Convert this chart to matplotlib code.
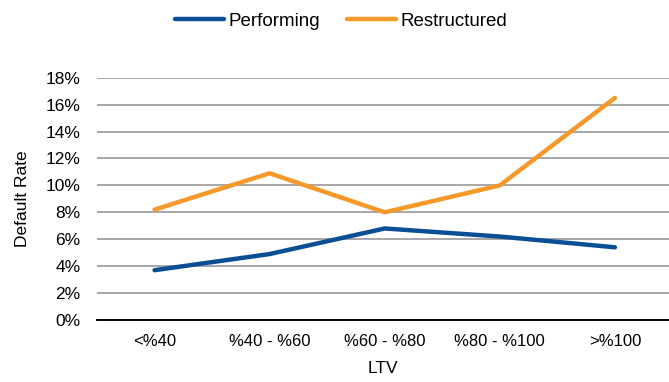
import matplotlib
matplotlib.use("Agg")
import matplotlib.pyplot as plt
from matplotlib.ticker import PercentFormatter

plt.rcParams['font.family'] = ['Liberation Sans', 'DejaVu Sans']

ltv_buckets = ['<%40', '%40 - %60', '%60 - %80', '%80 - %100', '>%100']
performing = [3.7, 4.9, 6.8, 6.2, 5.4]
restructured = [8.2, 10.9, 8.0, 10.0, 16.5]
y_ticks = [0, 2, 4, 6, 8, 10, 12, 14, 16, 18]

fig = plt.figure(figsize=(6.69, 3.82), dpi=100)
ax = fig.add_axes([0.145, 0.1623, 0.855, 0.6343])

x = range(len(ltv_buckets))
ax.plot(x, performing, color='#0a4f94', lw=3.2, solid_capstyle='round', label='Performing', zorder=3)
ax.plot(x, restructured, color='#f4992a', lw=3.2, solid_capstyle='round', label='Restructured', zorder=3)

ax.set_xlim(-0.5, 4.47)
ax.set_ylim(0, 18)
ax.set_yticks(y_ticks)
ax.yaxis.set_major_formatter(PercentFormatter(decimals=0))
ax.set_xticks(list(x))
ax.set_xticklabels(ltv_buckets)

ax.yaxis.grid(True, color='#a0a0a0', lw=1.3)
ax.set_axisbelow(True)
for side in ['top', 'right', 'left']:
    ax.spines[side].set_visible(False)
ax.spines['bottom'].set_color('black')
ax.spines['bottom'].set_linewidth(1.4)
ax.spines['bottom'].set_zorder(4)

ax.tick_params(axis='y', length=0, pad=12, labelsize=12.5)
ax.tick_params(axis='x', length=0, pad=10, labelsize=12)
ax.set_ylabel('Default Rate', fontsize=12.5, labelpad=11)
ax.set_xlabel('LTV', fontsize=12.5, labelpad=9)

fig.legend(loc='center', bbox_to_anchor=(0.51, 0.945), ncol=2, frameon=False,
           fontsize=13.5, handlelength=2.6, handletextpad=0.25, columnspacing=1.4)

fig.savefig('out.png', dpi=100)
